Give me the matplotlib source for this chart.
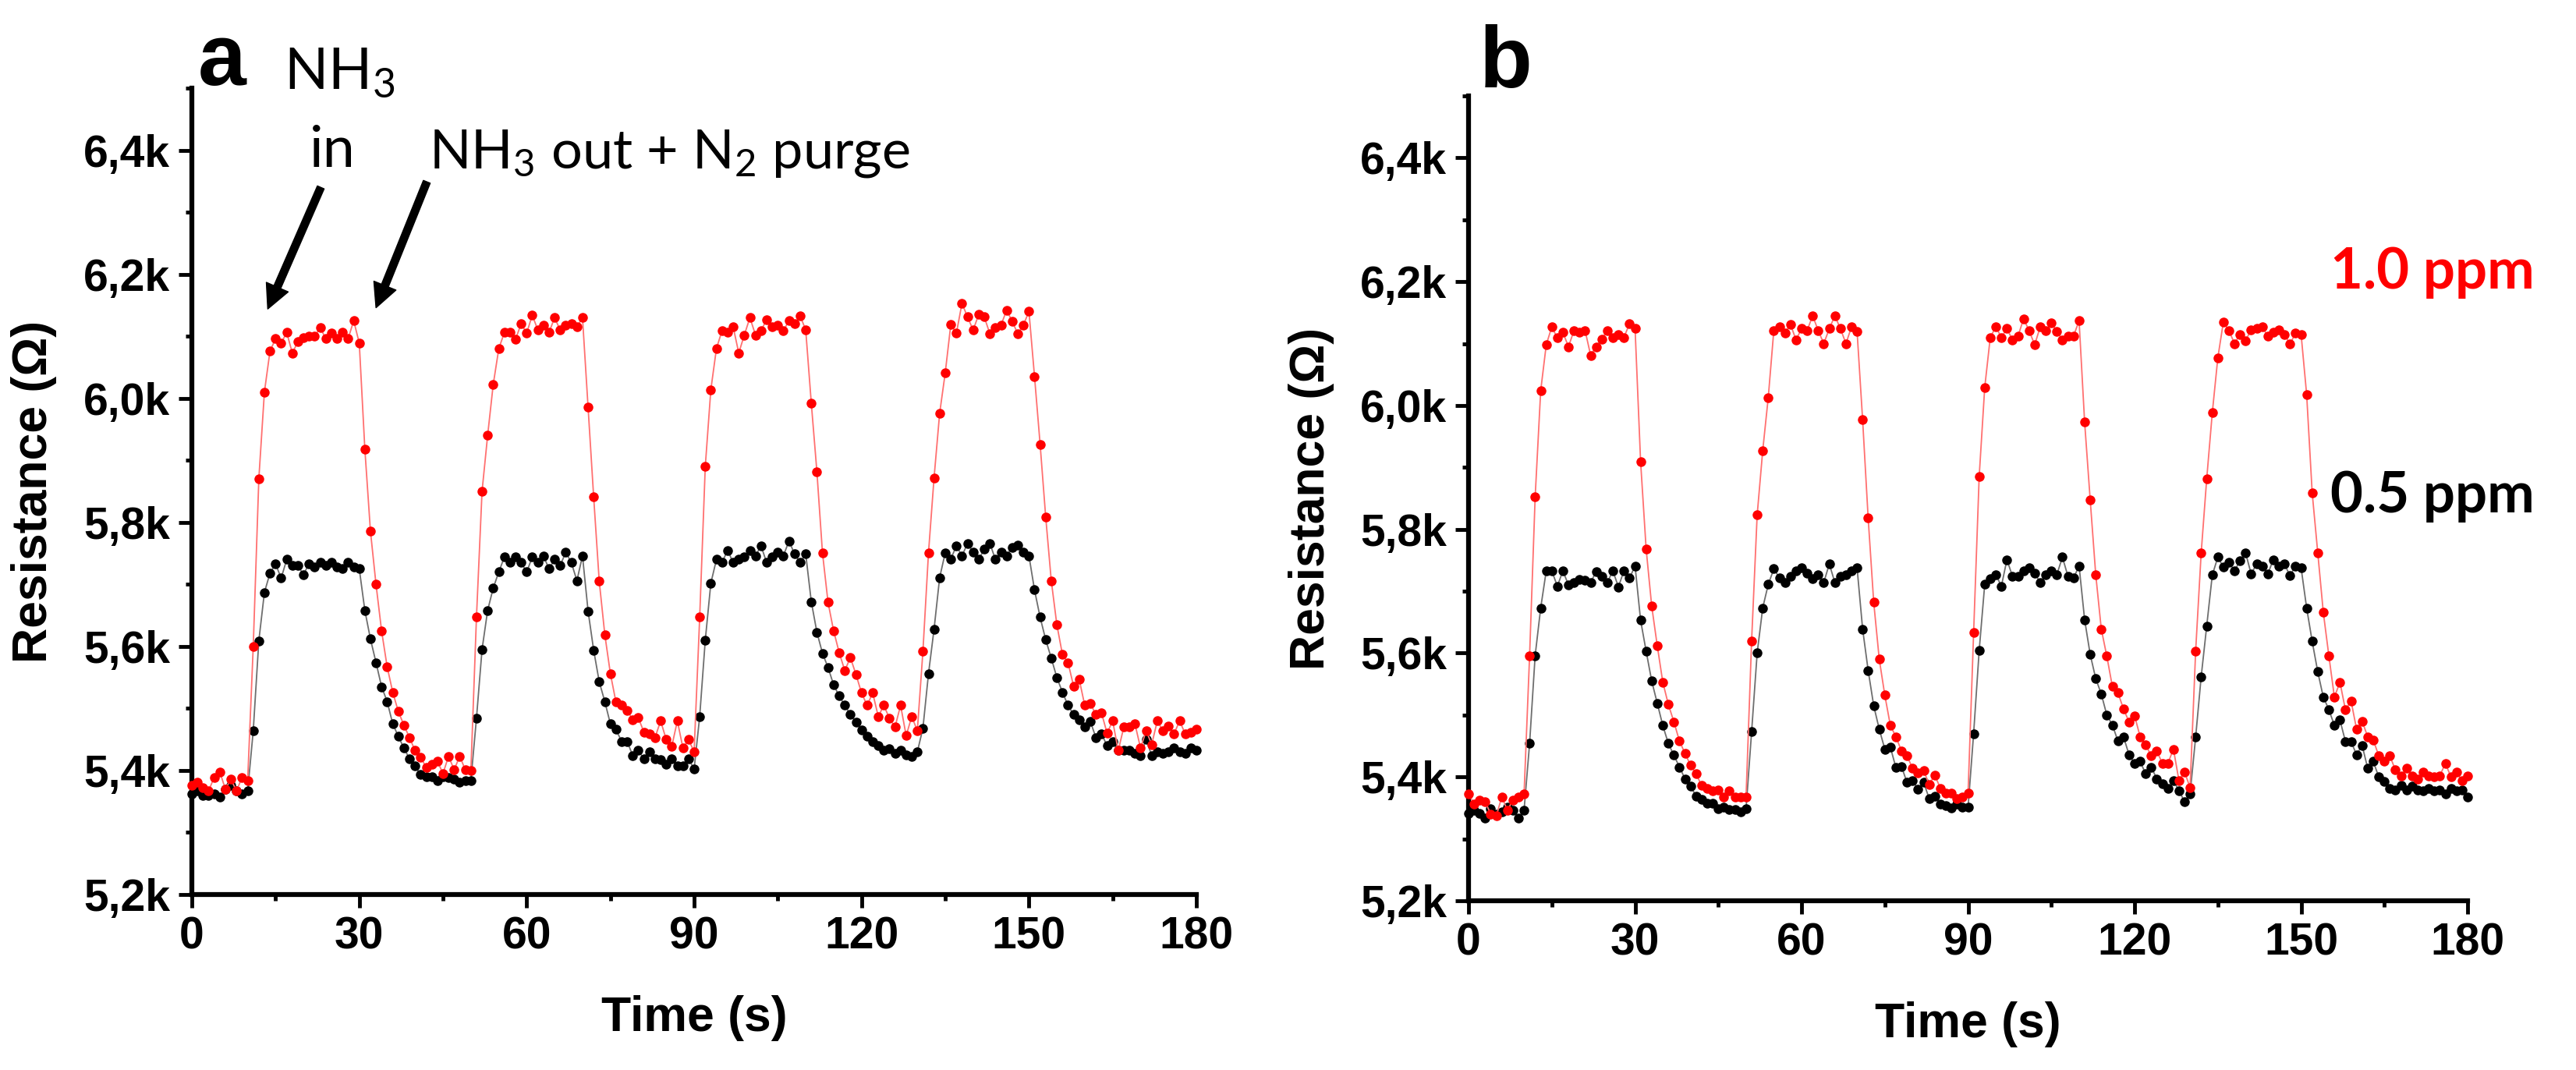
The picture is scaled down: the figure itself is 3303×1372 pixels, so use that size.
import numpy as np
import matplotlib
matplotlib.use("Agg")
import matplotlib.pyplot as plt
from matplotlib.ticker import MultipleLocator, FuncFormatter

plt.rcParams['font.family'] = ['Liberation Sans', 'DejaVu Sans']
plt.rcParams['mathtext.fontset'] = 'custom'
plt.rcParams['mathtext.rm'] = 'Lato'
plt.rcParams['mathtext.it'] = 'Lato:italic'
plt.rcParams['mathtext.bf'] = 'Lato:bold'

# ---------------- data (resistance in kOhm, 1 s sampling) ----------------
time_s = list(range(0, 181))

res_a_05ppm = [
    5.362, 5.367, 5.360, 5.360, 5.362, 5.357, 5.370, 5.376, 5.367, 5.362, 5.367,
    5.464, 5.609, 5.687, 5.718, 5.733, 5.710, 5.740, 5.730, 5.730, 5.716,
    5.733, 5.728, 5.735, 5.730, 5.735, 5.728, 5.725, 5.735, 5.728, 5.725,
    5.658, 5.612, 5.574, 5.535, 5.511, 5.475, 5.455, 5.436, 5.419, 5.407,
    5.393, 5.390, 5.390, 5.384, 5.390, 5.388, 5.386, 5.381, 5.384, 5.384,
    5.484, 5.595, 5.658, 5.694, 5.720, 5.744, 5.735, 5.745, 5.735, 5.720,
    5.744, 5.735, 5.746, 5.725, 5.740, 5.730, 5.752, 5.735, 5.706, 5.746,
    5.657, 5.594, 5.543, 5.511, 5.475, 5.466, 5.447, 5.447, 5.424, 5.432,
    5.419, 5.430, 5.419, 5.417, 5.410, 5.419, 5.407, 5.407, 5.419, 5.402,
    5.487, 5.610, 5.702, 5.740, 5.735, 5.755, 5.735, 5.740, 5.744, 5.755,
    5.746, 5.762, 5.735, 5.744, 5.752, 5.746, 5.770, 5.749, 5.735, 5.749,
    5.672, 5.623, 5.589, 5.566, 5.538, 5.520, 5.505, 5.490, 5.478, 5.465,
    5.455, 5.447, 5.440, 5.432, 5.435, 5.427, 5.432, 5.425, 5.422, 5.430,
    5.468, 5.556, 5.628, 5.711, 5.751, 5.741, 5.762, 5.746, 5.766, 5.752,
    5.740, 5.757, 5.766, 5.740, 5.752, 5.746, 5.760, 5.763, 5.752, 5.746,
    5.691, 5.647, 5.611, 5.581, 5.550, 5.526, 5.505, 5.490, 5.481, 5.470,
    5.479, 5.453, 5.459, 5.440, 5.447, 5.432, 5.432, 5.432, 5.427, 5.424,
    5.450, 5.424, 5.430, 5.427, 5.430, 5.436, 5.430, 5.427, 5.436, 5.432,
]

res_a_10ppm = [
    5.376, 5.381, 5.372, 5.367, 5.389, 5.398, 5.370, 5.386, 5.367, 5.389, 5.384,
    5.600, 5.870, 6.010, 6.076, 6.096, 6.089, 6.106, 6.073, 6.091, 6.098,
    6.100, 6.100, 6.114, 6.096, 6.105, 6.096, 6.107, 6.096, 6.125, 6.089,
    5.918, 5.786, 5.700, 5.625, 5.567, 5.526, 5.495, 5.473, 5.453, 5.432,
    5.421, 5.405, 5.410, 5.415, 5.395, 5.423, 5.401, 5.423, 5.401, 5.400,
    5.647, 5.850, 5.940, 6.022, 6.080, 6.106, 6.106, 6.095, 6.120, 6.105,
    6.134, 6.110, 6.118, 6.106, 6.130, 6.110, 6.118, 6.120, 6.115, 6.130,
    5.986, 5.841, 5.705, 5.619, 5.556, 5.510, 5.505, 5.497, 5.482, 5.485,
    5.462, 5.459, 5.453, 5.480, 5.450, 5.439, 5.480, 5.436, 5.450, 5.430,
    5.647, 5.890, 6.014, 6.080, 6.109, 6.107, 6.115, 6.073, 6.102, 6.130,
    6.102, 6.109, 6.127, 6.115, 6.118, 6.109, 6.125, 6.120, 6.133, 6.110,
    5.992, 5.882, 5.751, 5.671, 5.625, 5.590, 5.561, 5.582, 5.555, 5.525,
    5.505, 5.525, 5.487, 5.505, 5.484, 5.470, 5.505, 5.456, 5.487, 5.464,
    5.592, 5.751, 5.872, 5.976, 6.041, 6.119, 6.105, 6.153, 6.131, 6.110,
    6.135, 6.131, 6.104, 6.114, 6.118, 6.142, 6.124, 6.104, 6.118, 6.140,
    6.035, 5.926, 5.809, 5.706, 5.635, 5.587, 5.574, 5.536, 5.547, 5.505,
    5.508, 5.490, 5.493, 5.460, 5.480, 5.432, 5.470, 5.470, 5.475, 5.436,
    5.464, 5.442, 5.480, 5.464, 5.472, 5.459, 5.480, 5.459, 5.462, 5.467,
]

res_b_05ppm = [
    5.341, 5.346, 5.341, 5.334, 5.349, 5.340, 5.343, 5.351, 5.346, 5.334, 5.346,
    5.454, 5.596, 5.673, 5.733, 5.733, 5.708, 5.733, 5.710, 5.714, 5.719,
    5.718, 5.714, 5.732, 5.724, 5.714, 5.733, 5.707, 5.733, 5.721, 5.741,
    5.653, 5.603, 5.555, 5.519, 5.483, 5.454, 5.435, 5.416, 5.397, 5.385,
    5.369, 5.364, 5.357, 5.357, 5.349, 5.351, 5.347, 5.347, 5.343, 5.349,
    5.473, 5.600, 5.673, 5.711, 5.736, 5.722, 5.714, 5.724, 5.733, 5.738,
    5.729, 5.720, 5.726, 5.714, 5.744, 5.714, 5.724, 5.726, 5.733, 5.738,
    5.639, 5.572, 5.515, 5.477, 5.445, 5.448, 5.415, 5.417, 5.391, 5.394,
    5.380, 5.391, 5.365, 5.369, 5.356, 5.354, 5.350, 5.356, 5.351, 5.351,
    5.470, 5.604, 5.711, 5.720, 5.727, 5.708, 5.751, 5.724, 5.724, 5.733,
    5.738, 5.729, 5.714, 5.727, 5.733, 5.727, 5.755, 5.724, 5.721, 5.741,
    5.654, 5.598, 5.559, 5.534, 5.500, 5.484, 5.458, 5.465, 5.436, 5.422,
    5.425, 5.405, 5.416, 5.397, 5.389, 5.381, 5.394, 5.378, 5.360, 5.373,
    5.464, 5.562, 5.644, 5.726, 5.755, 5.739, 5.747, 5.733, 5.749, 5.762,
    5.728, 5.744, 5.741, 5.728, 5.751, 5.740, 5.744, 5.725, 5.741, 5.738,
    5.673, 5.619, 5.570, 5.529, 5.509, 5.483, 5.492, 5.457, 5.457, 5.436,
    5.451, 5.414, 5.425, 5.400, 5.393, 5.381, 5.379, 5.386, 5.379, 5.385,
    5.379, 5.377, 5.382, 5.377, 5.379, 5.373, 5.382, 5.377, 5.379, 5.368,
]

res_b_10ppm = [
    5.373, 5.356, 5.363, 5.360, 5.340, 5.337, 5.368, 5.346, 5.363, 5.368, 5.372,
    5.596, 5.852, 6.024, 6.098, 6.127, 6.109, 6.118, 6.095, 6.121, 6.118,
    6.121, 6.081, 6.095, 6.107, 6.121, 6.109, 6.115, 6.110, 6.132, 6.125,
    5.909, 5.768, 5.676, 5.612, 5.553, 5.517, 5.489, 5.458, 5.438, 5.419,
    5.405, 5.386, 5.382, 5.377, 5.379, 5.368, 5.378, 5.368, 5.368, 5.368,
    5.620, 5.823, 5.927, 6.013, 6.121, 6.127, 6.117, 6.131, 6.106, 6.124,
    6.121, 6.145, 6.121, 6.100, 6.124, 6.145, 6.124, 6.100, 6.127, 6.120,
    5.977, 5.818, 5.682, 5.590, 5.532, 5.483, 5.465, 5.442, 5.434, 5.414,
    5.407, 5.410, 5.388, 5.403, 5.382, 5.374, 5.374, 5.365, 5.368, 5.374,
    5.633, 5.885, 6.029, 6.110, 6.127, 6.110, 6.124, 6.106, 6.112, 6.140,
    6.121, 6.098, 6.127, 6.121, 6.133, 6.120, 6.106, 6.112, 6.112, 6.137,
    5.973, 5.848, 5.727, 5.639, 5.595, 5.546, 5.536, 5.510, 5.489, 5.499,
    5.465, 5.452, 5.434, 5.442, 5.422, 5.422, 5.445, 5.394, 5.408, 5.383,
    5.603, 5.762, 5.882, 5.988, 6.077, 6.135, 6.121, 6.100, 6.115, 6.105,
    6.122, 6.124, 6.127, 6.112, 6.118, 6.122, 6.115, 6.099, 6.117, 6.115,
    6.018, 5.859, 5.762, 5.666, 5.596, 5.529, 5.553, 5.508, 5.523, 5.477,
    5.490, 5.465, 5.460, 5.434, 5.425, 5.434, 5.411, 5.402, 5.414, 5.402,
    5.397, 5.408, 5.402, 5.400, 5.402, 5.422, 5.400, 5.408, 5.394, 5.402,
]

x_ticks = [0, 30, 60, 90, 120, 150, 180]
y_ticks = [5.2, 5.4, 5.6, 5.8, 6.0, 6.2, 6.4]
conc_labels = ["1.0 ppm", "0.5 ppm"]

# ---------------- figure ----------------
W, H = 3303, 1372
fig = plt.figure(figsize=(W / 100, H / 100), dpi=100)

def px_axes(l, r, b, t):
    return [l / W, 1 - b / H, (r - l) / W, (b - t) / H]

ax_a = fig.add_axes(px_axes(246, 1534, 1147, 113))
ax_b = fig.add_axes(px_axes(1883, 3164, 1155, 123))

def kfmt(v, pos):
    return ("%.1fk" % v).replace(".", ",")

for ax, black, red in [(ax_a, res_a_05ppm, res_a_10ppm), (ax_b, res_b_05ppm, res_b_10ppm)]:
    ax.plot(time_s, black, '-', color='#6e6e6e', lw=1.3, zorder=2, clip_on=False)
    ax.plot(time_s, black, 'o', color='black', ms=9.0, mec='none', zorder=3, clip_on=False)
    ax.plot(time_s, red, '-', color='#ff7070', lw=1.3, zorder=4, clip_on=False)
    ax.plot(time_s, red, 'o', color='#ff0000', ms=9.0, mec='none', zorder=5, clip_on=False)
    ax.set_xlim(0, 180)
    ax.set_ylim(5.2, 6.5)
    ax.set_xticks(x_ticks)
    ax.set_yticks(y_ticks)
    ax.xaxis.set_minor_locator(MultipleLocator(15))
    ax.yaxis.set_minor_locator(MultipleLocator(0.1))
    ax.yaxis.set_major_formatter(FuncFormatter(kfmt))
    for s in ['top', 'right']:
        ax.spines[s].set_visible(False)
    for s in ['left', 'bottom']:
        ax.spines[s].set_linewidth(4.5)
    ax.tick_params(which='major', direction='out', length=12, width=3.5, pad=8,
                   labelsize=41)
    ax.tick_params(which='minor', direction='out', length=6, width=3.5)
    for lab in ax.get_xticklabels() + ax.get_yticklabels():
        lab.set_fontweight('bold')
    ax.set_xlabel("Time (s)", fontsize=45, fontweight='bold')
    ax.set_ylabel("Resistance (\u03a9)", fontsize=45, fontweight='bold')
    ax.xaxis.set_label_coords(0.5, -0.125)
    ax.yaxis.set_label_coords(-0.134, 0.5)

# panel letters
fig.text(254 / W, 1 - 109 / H, "a", fontsize=80, fontweight='bold', va='baseline', ha='left')
fig.text(1897 / W, 1 - 112 / H, "b", fontsize=80, fontweight='bold', va='baseline', ha='left')

# annotations (panel a)
t1 = fig.text(364 / W, 1 - 114 / H, r"NH$_{3}$", family='Lato', fontsize=44,
              va='baseline', ha='left')
t2 = fig.text(426 / W, 1 - 214 / H, "in", family='Lato', fontsize=44,
              va='baseline', ha='center')
t3 = fig.text(550 / W, 1 - 216 / H, r"NH$_{3}$ out + N$_{2}$ purge", family='Lato',
              fontsize=44, va='baseline', ha='left')
t4 = fig.text(2988 / W, 1 - 370 / H, conc_labels[0], family='Lato', fontweight='bold',
              color='#ff0000', fontsize=44, va='baseline', ha='left')
t5 = fig.text(2988 / W, 1 - 657 / H, conc_labels[1], family='Lato', fontweight='bold',
              color='black', fontsize=44, va='baseline', ha='left')

fig.canvas.draw()
r = fig.canvas.get_renderer()
def fit(txt, target_w):
    w = txt.get_window_extent(r).width
    txt.set_fontsize(txt.get_fontsize() * target_w / w)
fit(t3, 617)
t1.set_fontsize(t3.get_fontsize() * 1.05)
t2.set_fontsize(t3.get_fontsize() * 1.05)
fit(t4, 262)
t5.set_fontsize(t4.get_fontsize())

arrow_kw = dict(arrowstyle='simple,head_length=0.55,head_width=0.55,tail_width=0.17',
                color='black', mutation_scale=40, shrinkA=0, shrinkB=0)
ax_a.annotate("", xy=(13.6, 6.144), xytext=(23.1, 6.340), arrowprops=arrow_kw,
              annotation_clip=False)
ax_a.annotate("", xy=(33.0, 6.146), xytext=(42.1, 6.349), arrowprops=arrow_kw,
              annotation_clip=False)

fig.savefig("out.png", dpi=100, facecolor='white')
